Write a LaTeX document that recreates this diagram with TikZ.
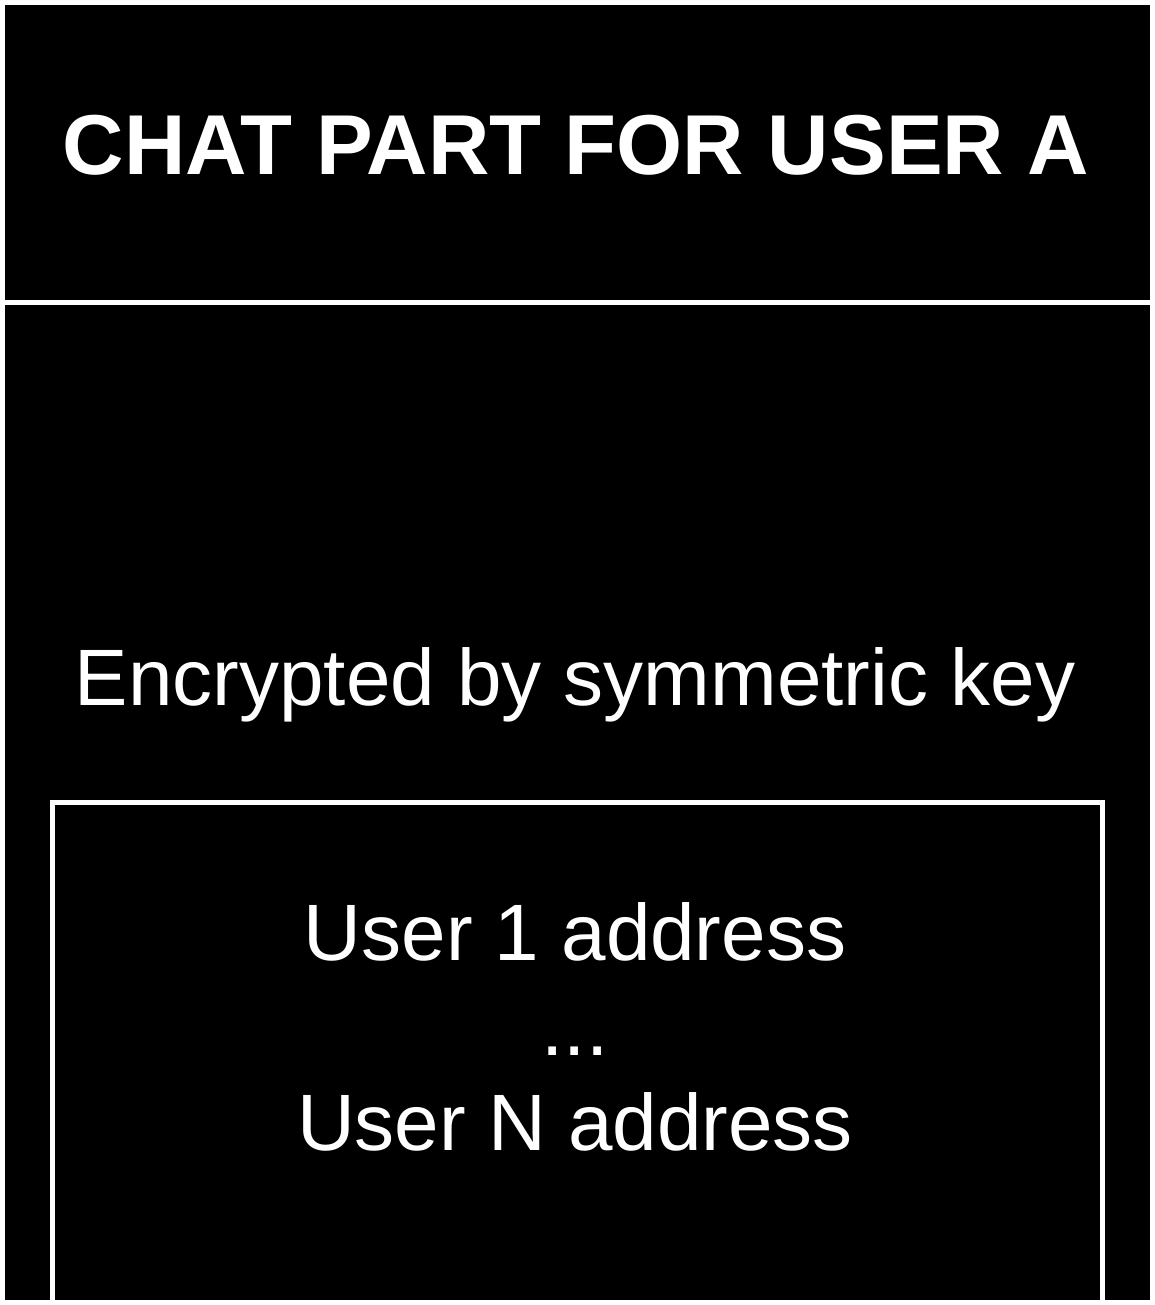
\documentclass[tikz,border=0pt]{standalone}
\usepackage{fontspec}
\setmainfont{Liberation Sans}
\begin{document}
\begin{tikzpicture}[x=1pt,y=-1pt,
  panel/.style={fill=black,draw=none},
  frameline/.style={draw=white,line width=5pt},
  titletext/.style={text=white,font=\fontsize{85}{100}\selectfont\bfseries,anchor=base,inner sep=0pt},
  bodytext/.style={text=white,font=\fontsize{80}{95}\selectfont,anchor=base,inner sep=0pt}]
\useasboundingbox[fill=white] (0,0) rectangle (1155,1305);
\fill[panel] (5,5) rectangle (1150,300);
\fill[panel] (5,305) rectangle (1150,1300);
\coordinate (bl) at (52.5,1300);
\coordinate (tl) at (52.5,802.5);
\coordinate (tr) at (1102.5,802.5);
\coordinate (br) at (1102.5,1300);
\draw[frameline] (bl) -- (tl) -- (tr) -- (br);
\node[titletext] (title) at (576,175) {CHAT PART FOR USER A};
\node[bodytext] (enc) at (575,705) {Encrypted by symmetric key};
\node[bodytext] (u1) at (575,960) {User 1 address};
\node[bodytext] (dots) at (575,1055) {...};
\node[bodytext] (un) at (575,1150) {User N address};
\end{tikzpicture}
\end{document}
